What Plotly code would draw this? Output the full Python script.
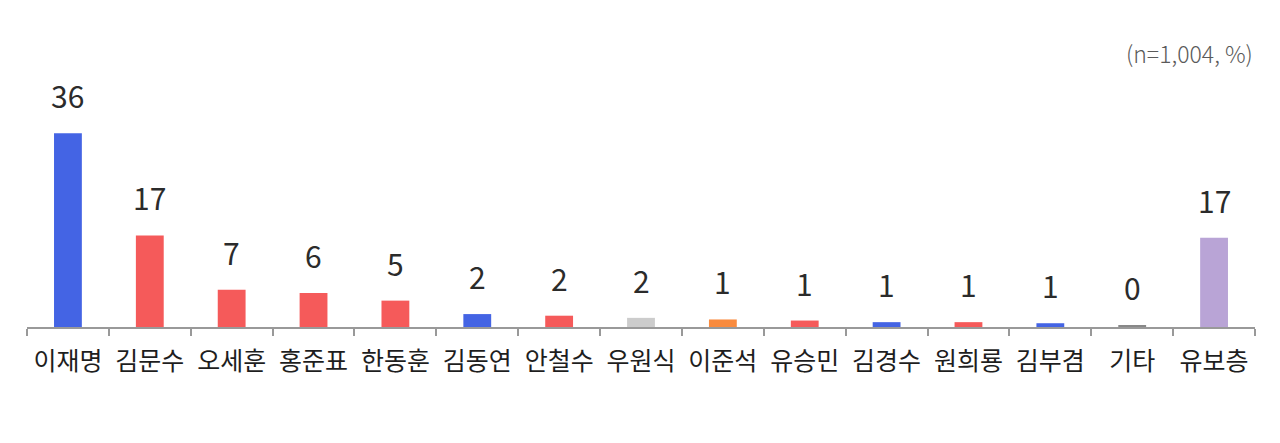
import plotly.graph_objects as go

# 후보 선호도 (n=1,004, %)
candidates = ['이재명', '김문수', '오세훈', '홍준표', '한동훈', '김동연', '안철수', '우원식',
              '이준석', '유승민', '김경수', '원희룡', '김부겸', '기타', '유보층']
values = [36, 17, 6.9, 6.3, 4.9, 2.4, 2.1, 1.7, 1.4, 1.2, 0.9, 0.9, 0.7, 0.3, 16.6]
labels = ['36', '17', '7', '6', '5', '2', '2', '2', '1', '1', '1', '1', '1', '0', '17']
colors = ['#4464E4', '#F55A5A', '#F55A5A', '#F55A5A', '#F55A5A', '#4464E4', '#F55A5A', '#CCCCCC',
          '#F98B3E', '#F55A5A', '#4464E4', '#F55A5A', '#4464E4', '#888888', '#B9A4D6']

font = 'Noto Sans CJK KR'

fig = go.Figure()
fig.add_trace(go.Bar(x=candidates, y=values, marker_color=colors, marker_line_width=0,
                     hoverinfo='x+y'))

# 막대 위 수치
for c, v, t in zip(candidates, values, labels):
    fig.add_annotation(x=c, y=v, text=t, showarrow=False, yanchor='bottom', yshift=14,
                       font=dict(family=font, size=30, color='#2b2b2b'))

fig.add_annotation(x=1, y=1, xref='paper', yref='paper', xanchor='right', yanchor='bottom',
                   text='(n=1,004, %)', showarrow=False, yshift=-12, xshift=0,
                   font=dict(family=font, size=23, color='#5a5a5a', weight=300))

fig.update_layout(
    width=1280, height=443,
    margin=dict(l=19, r=33, t=52, b=124, autoexpand=False),
    paper_bgcolor='white', plot_bgcolor='white',
    bargap=0.66,
    showlegend=False,
    xaxis=dict(showline=True, linecolor='#999999', linewidth=2,
               ticks='outside', tickson='boundaries', ticklen=7, tickwidth=2, tickcolor='#999999',
               ticklabelstandoff=11, tickangle=0, automargin=False,
               tickfont=dict(family=font, size=25, color='#1e1e1e'), showgrid=False),
    yaxis=dict(range=[0, 49.6], visible=False, showgrid=False, zeroline=False),
)

fig.write_html('out.html')
